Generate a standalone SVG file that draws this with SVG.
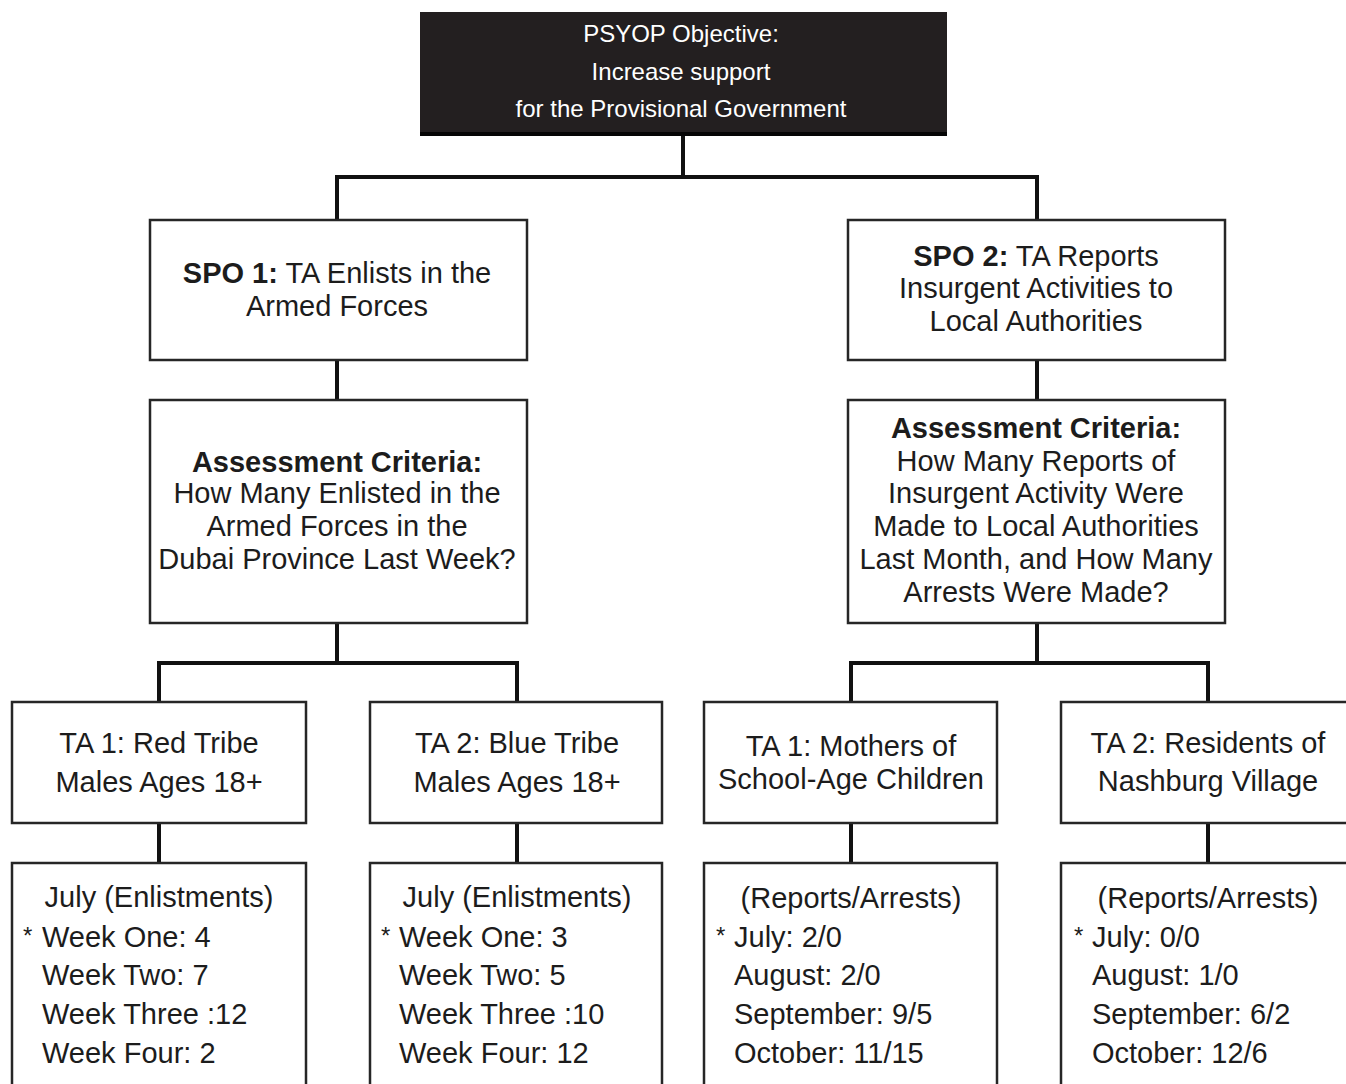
<svg xmlns="http://www.w3.org/2000/svg" width="1346" height="1084" viewBox="0 0 1346 1084">
<style>
  .box { fill: #ffffff; stroke: #262626; stroke-width: 2.5; }
  .conn { fill: none; stroke: #111111; stroke-width: 4; stroke-linecap: square; }
  text { font-family: "Liberation Sans", Arial, sans-serif; fill: #1c1c1c; }
  .t { font-size: 29px; }
  .c { text-anchor: middle; }
  .b { font-weight: bold; }
  .top { font-size: 24px; fill: #ffffff; text-anchor: middle; }
  .ast { font-size: 24px; }
</style>
<rect width="1346" height="1084" fill="#ffffff"/>

<g id="connectors">
  <path class="conn" d="M683,136 V177 M337,177 H1037 M337,177 V219 M1037,177 V219"/>
  <path class="conn" d="M337,360 V399 M337,623 V663 M159,663 H517 M159,663 V702 M517,663 V702 M159,823 V862 M517,823 V862"/>
  <path class="conn" d="M1037,360 V399 M1037,623 V663 M851,663 H1208 M851,663 V702 M1208,663 V702 M851,823 V862 M1208,823 V862"/>
</g>

<g id="objective">
  <rect x="420" y="12" width="527" height="123" fill="#231f20"/>
  <rect x="420" y="132" width="527" height="4" fill="#050505"/>
  <text class="top" x="681" y="42">PSYOP Objective:</text>
  <text class="top" x="681" y="80">Increase support</text>
  <text class="top" x="681" y="117">for the Provisional Government</text>
</g>

<g id="spo1">
  <rect class="box" x="150" y="220" width="377" height="140"/>
  <text class="t c" x="337" y="283"><tspan class="b">SPO 1:</tspan> TA Enlists in the</text>
  <text class="t c" x="337" y="316">Armed Forces</text>
</g>

<g id="spo2">
  <rect class="box" x="848" y="220" width="377" height="140"/>
  <text class="t c" x="1036" y="266"><tspan class="b">SPO 2:</tspan> TA Reports</text>
  <text class="t c" x="1036" y="298">Insurgent Activities to</text>
  <text class="t c" x="1036" y="331">Local Authorities</text>
</g>

<g id="criteria1">
  <rect class="box" x="150" y="400" width="377" height="223"/>
  <text class="t c b" x="337" y="472">Assessment Criteria:</text>
  <text class="t c" x="337" y="503">How Many Enlisted in the</text>
  <text class="t c" x="337" y="536">Armed Forces in the</text>
  <text class="t c" x="337" y="569">Dubai Province Last Week?</text>
</g>

<g id="criteria2">
  <rect class="box" x="848" y="400" width="377" height="223"/>
  <text class="t c b" x="1036" y="438">Assessment Criteria:</text>
  <text class="t c" x="1036" y="471">How Many Reports of</text>
  <text class="t c" x="1036" y="503">Insurgent Activity Were</text>
  <text class="t c" x="1036" y="536">Made to Local Authorities</text>
  <text class="t c" x="1036" y="569">Last Month, and How Many</text>
  <text class="t c" x="1036" y="602">Arrests Were Made?</text>
</g>

<g id="ta1-red">
  <rect class="box" x="12" y="702" width="294" height="121"/>
  <text class="t c" x="159" y="753">TA 1: Red Tribe</text>
  <text class="t c" x="159" y="792">Males Ages 18+</text>
</g>

<g id="ta2-blue">
  <rect class="box" x="370" y="702" width="292" height="121"/>
  <text class="t c" x="517" y="753">TA 2: Blue Tribe</text>
  <text class="t c" x="517" y="792">Males Ages 18+</text>
</g>

<g id="ta1-mothers">
  <rect class="box" x="704" y="702" width="293" height="121"/>
  <text class="t c" x="851" y="756">TA 1: Mothers of</text>
  <text class="t c" x="851" y="789">School-Age Children</text>
</g>

<g id="ta2-residents">
  <rect class="box" x="1061" y="702" width="295" height="121"/>
  <text class="t c" x="1208" y="753">TA 2: Residents of</text>
  <text class="t c" x="1208" y="791">Nashburg Village</text>
</g>

<g id="data-red">
  <rect class="box" x="12" y="863" width="294" height="235"/>
  <text class="t c" x="159" y="907">July (Enlistments)</text>
  <text class="ast" x="23" y="944">*</text>
  <text class="t" x="42" y="947">Week One: 4</text>
  <text class="t" x="42" y="985">Week Two: 7</text>
  <text class="t" x="42" y="1024">Week Three :12</text>
  <text class="t" x="42" y="1063">Week Four: 2</text>
</g>

<g id="data-blue">
  <rect class="box" x="370" y="863" width="292" height="235"/>
  <text class="t c" x="517" y="907">July (Enlistments)</text>
  <text class="ast" x="381" y="944">*</text>
  <text class="t" x="399" y="947">Week One: 3</text>
  <text class="t" x="399" y="985">Week Two: 5</text>
  <text class="t" x="399" y="1024">Week Three :10</text>
  <text class="t" x="399" y="1063">Week Four: 12</text>
</g>

<g id="data-mothers">
  <rect class="box" x="704" y="863" width="293" height="235"/>
  <text class="t c" x="851" y="908">(Reports/Arrests)</text>
  <text class="ast" x="716" y="944">*</text>
  <text class="t" x="734" y="947">July: 2/0</text>
  <text class="t" x="734" y="985">August: 2/0</text>
  <text class="t" x="734" y="1024">September: 9/5</text>
  <text class="t" x="734" y="1063">October: 11/15</text>
</g>

<g id="data-residents">
  <rect class="box" x="1061" y="863" width="295" height="235"/>
  <text class="t c" x="1208" y="908">(Reports/Arrests)</text>
  <text class="ast" x="1074" y="944">*</text>
  <text class="t" x="1092" y="947">July: 0/0</text>
  <text class="t" x="1092" y="985">August: 1/0</text>
  <text class="t" x="1092" y="1024">September: 6/2</text>
  <text class="t" x="1092" y="1063">October: 12/6</text>
</g>
</svg>
